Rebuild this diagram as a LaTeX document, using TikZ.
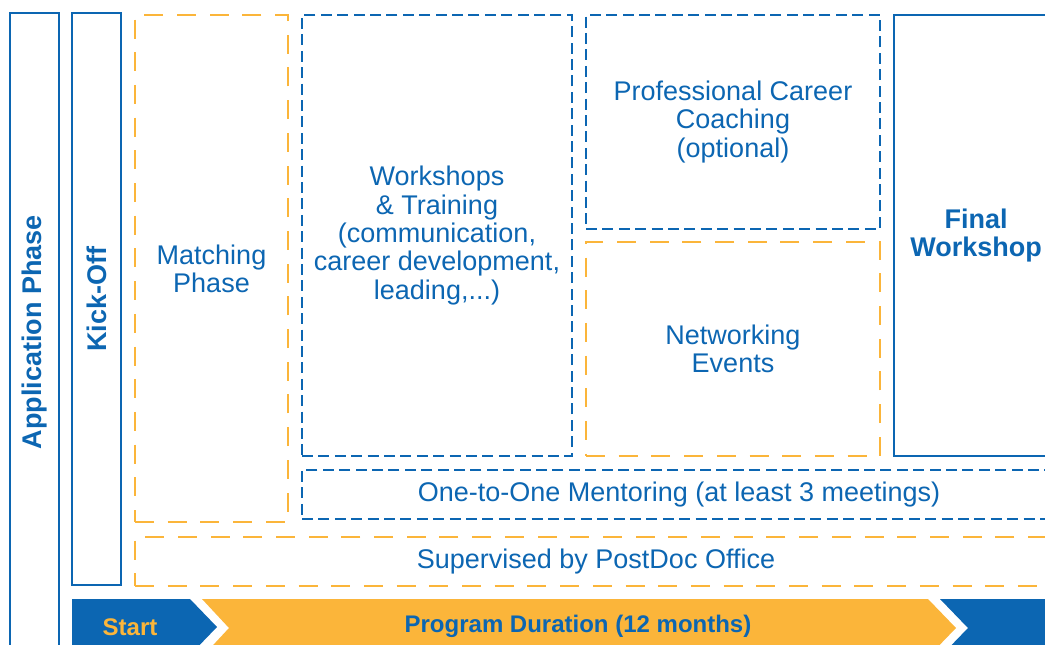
\documentclass[tikz,border=0pt]{standalone}
\usepackage{fontspec}
\setmainfont{Liberation Sans}
\definecolor{pdblue}{HTML}{0C66B2}
\definecolor{pdorange}{HTML}{FBB53A}

\begin{document}
\begin{tikzpicture}[x=1pt, y=-1pt,
    txt/.style={text=pdblue, align=center, inner sep=0pt, font=\fontsize{27}{28.3}\selectfont},
    solidbox/.style={txt, draw=pdblue, line width=1.8pt},
    bluedash/.style={txt, draw=pdblue, line width=1.8pt, dash pattern=on 11pt off 5.4pt},
    orangedash/.style={txt, draw=pdorange, line width=1.8pt, dash pattern=on 19pt off 13.7pt},
    barlabel/.style={font=\fontsize{24}{26}\selectfont\bfseries, inner sep=0pt}]
        \clip (0, 0) rectangle (1045, 645);

        % Phases on the left
        \node[solidbox, minimum width=49pt, minimum height=638pt] (application) at (34.5, 332)
            {\rotatebox{90}{\bfseries Application Phase}};
        \node[solidbox, minimum width=49pt, minimum height=572pt] (kickoff) at (96.5, 299)
            {\rotatebox{90}{\bfseries Kick-Off}};
        \node[orangedash, minimum width=153pt, minimum height=507pt] (matching) at (211.5, 268.5)
            {Matching\\Phase};

        % Program blocks
        \node[bluedash, minimum width=270pt, minimum height=441pt] (workshops) at (437, 235.5)
            {Workshops\\\& Training\\(communication,\\career development,\\leading,...)};
        \node[bluedash, minimum width=294pt, minimum height=214pt] (coaching) at (733, 122)
            {Professional Career\\Coaching\\(optional)};
        \node[orangedash, minimum width=294pt, minimum height=214pt] (networking) at (733, 349)
            {Networking\\Events};
        \node[solidbox, minimum width=164pt, minimum height=441pt] (final) at (976, 235.5)
            {\bfseries Final\\\bfseries Workshop};

        % Running through the whole program
        \node[bluedash, minimum width=754pt, minimum height=49pt] (mentoring) at (679, 494.5)
            {One-to-One Mentoring (at least 3 meetings)};
        \node[orangedash, minimum width=922pt, minimum height=49pt] (supervised) at (596, 561.5)
            {Supervised by PostDoc Office};

        % Time line
        \fill[pdblue] (72, 599) -- (190, 599) -- (217, 627) -- (190, 655) -- (72, 655) -- cycle;
        \fill[pdorange] (202, 599) -- (928, 599) -- (956, 628) -- (928, 657) -- (202, 657) -- (229, 628) -- cycle;
        \fill[pdblue] (940, 599) -- (1060, 599) -- (1060, 657) -- (940, 657) -- (968, 628) -- cycle;
        \node[barlabel, text=pdorange] (start) at (130, 627) {Start};
        \node[barlabel, text=pdblue] (duration) at (578, 626) {Program Duration (12 months)};
    \end{tikzpicture}
\end{document}
